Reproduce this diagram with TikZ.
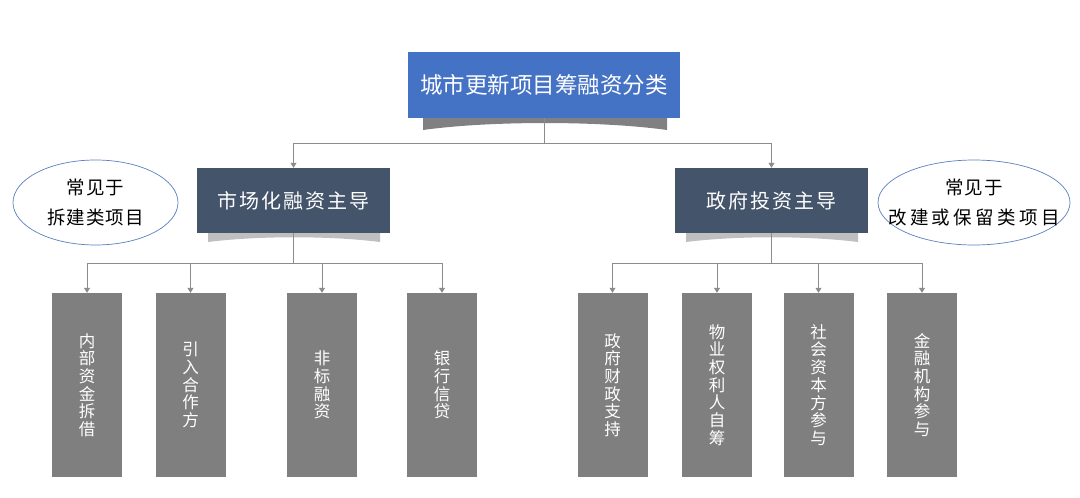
\documentclass[tikz,border=0pt]{standalone}
\usepackage{fontspec}
\newfontfamily\cjk{Noto Sans CJK SC}
\newfontfamily\cjkmid[LetterSpace=10]{Noto Sans CJK SC}
\newfontfamily\cjkwide[LetterSpace=18]{Noto Sans CJK SC}
\newfontfamily\cjknote[LetterSpace=6]{Noto Sans CJK SC}
\usetikzlibrary{arrows.meta,shapes.geometric}
\definecolor{topblue}{HTML}{4472C4}
\definecolor{slate}{HTML}{44546A}
\definecolor{boxgray}{HTML}{7F7F7F}
\definecolor{linegray}{HTML}{8C8C8C}
\definecolor{ellblue}{HTML}{5B7FC0}
\definecolor{shadowdark}{HTML}{808080}
\definecolor{shadowlight}{HTML}{BFBFBF}
\begin{document}
\begin{tikzpicture}[x=1pt,y=-1pt,
  conn/.style={draw=linegray,line width=0.8pt},
  arr/.style={conn,-{Triangle[length=5pt,width=6pt]}},
  leaf/.style={fill=boxgray,draw=none,minimum width=70pt,minimum height=184pt,inner sep=0pt,text=white,font=\cjk\fontsize{16.5}{17.7}\selectfont,align=center},
  mid/.style={fill=slate,minimum width=193pt,minimum height=65pt,inner sep=0pt,text=white,font=\cjkmid\fontsize{20}{24}\selectfont},
  note/.style={ellipse,draw=ellblue,line width=0.7pt,inner sep=0pt},
  notetext/.style={inner sep=0pt,font=\cjknote\fontsize{18.5}{30}\selectfont,align=center}]
\useasboundingbox (0,0) rectangle (1080,498);
\fill[white] (0,0) rectangle (1080,498);

% shadows
\fill[shadowdark] (423,118) -- (667,118) -- (667,130) .. controls (600,120.7) and (490,120.7) .. (423,130) -- cycle;
\fill[shadowlight] (208,233) -- (380,233) -- (380,242) .. controls (330,235.7) and (258,235.7) .. (208,242) -- cycle;
\fill[shadowlight] (686,233) -- (858,233) -- (858,242) .. controls (808,235.7) and (736,235.7) .. (686,242) -- cycle;

% top
\node[fill=topblue,minimum width=272pt,minimum height=66pt,inner sep=0pt,text=white,font=\cjk\fontsize{22.5}{26}\selectfont] (top) at (544,85) {城市更新项目筹融资分类};

% middle
\node[mid] (ml) at (293.5,200.5) {市场化融资主导};
\node[mid] (mr) at (771.5,200.5) {政府投资主导};

% notes
\node[note,minimum width=165pt,minimum height=85pt] (nl) at (95.5,202.5) {};
\node[notetext] (nlt) at (nl.center) {常见于\\拆建类项目};
\node[note,minimum width=192pt,minimum height=85pt] (nr) at (974,202.5) {};
\node[notetext] (nrt) at (nr.center) {常见于\\{\cjkwide 改建或保留类项目}};

% leaves
\node[leaf] (l1) at (87,385) {内\\部\\资\\金\\拆\\借};
\node[leaf] (l2) at (190.5,385) {引\\入\\合\\作\\方};
\node[leaf] (l3) at (322,385) {非\\标\\融\\资};
\node[leaf] (l4) at (442,385) {银\\行\\信\\贷};
\node[leaf] (r1) at (612.5,385) {政\\府\\财\\政\\支\\持};
\node[leaf] (r2) at (717,385) {物\\业\\权\\利\\人\\自\\筹};
\node[leaf] (r3) at (818.5,385) {社\\会\\资\\本\\方\\参\\与};
\node[leaf] (r4) at (922,385) {金\\融\\机\\构\\参\\与};

% connectors
\coordinate (h1) at (0,143);
\coordinate (h2) at (0,263);
\draw[conn] (top.south) -- (top.south |- h1);
\draw[arr] (top.south |- h1) -| (ml.north);
\draw[arr] (top.south |- h1) -| (mr.north);

\draw[conn] (ml.south) -- (ml.south |- h2);
\foreach \n in {l1,l2,l3,l4}{\draw[arr] (ml.south |- h2) -| (\n.north);}
\draw[conn] (mr.south) -- (mr.south |- h2);
\foreach \n in {r1,r2,r3,r4}{\draw[arr] (mr.south |- h2) -| (\n.north);}
\end{tikzpicture}
\end{document}
